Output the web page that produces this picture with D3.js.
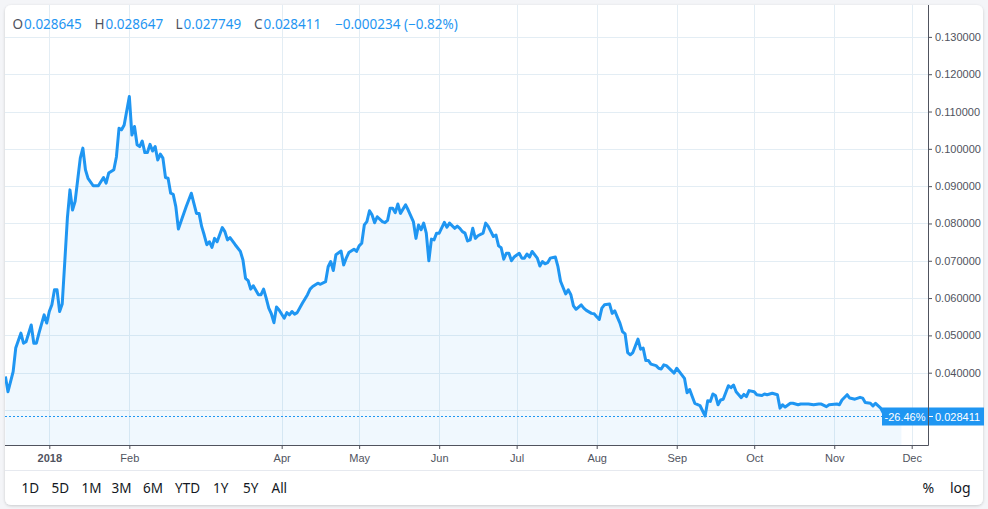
<!DOCTYPE html>
<html>
<head>
<meta charset="utf-8">
<script src="https://cdn.jsdelivr.net/npm/d3@7"></script>
<style>
html, body { margin: 0; padding: 0; background: #f4f5f8; }
svg { display: block; }
</style>
</head>
<body>
<svg width="988" height="509"></svg>
<script>
var width = 988;
var height = 509;
var plot = {left: 5, top: 5, right: 928, bottom: 445};

// daily closes
var dates = [
  "2017-12-15","2017-12-16","2017-12-18","2017-12-19","2017-12-21","2017-12-22","2017-12-23","2017-12-25",
  "2017-12-26","2017-12-27","2017-12-28","2017-12-30","2017-12-31",
  "2018-01-01","2018-01-02","2018-01-03","2018-01-04","2018-01-05","2018-01-06","2018-01-07","2018-01-08",
  "2018-01-09","2018-01-10","2018-01-11","2018-01-12","2018-01-13","2018-01-14","2018-01-15","2018-01-16",
  "2018-01-18","2018-01-20","2018-01-22","2018-01-23","2018-01-24","2018-01-26","2018-01-27","2018-01-28",
  "2018-01-29","2018-01-30",
  "2018-02-01","2018-02-02","2018-02-03","2018-02-04","2018-02-05","2018-02-06","2018-02-07","2018-02-08",
  "2018-02-09","2018-02-10","2018-02-11","2018-02-12","2018-02-13","2018-02-14","2018-02-15","2018-02-16",
  "2018-02-17","2018-02-18","2018-02-19","2018-02-20","2018-02-21","2018-02-23","2018-02-25","2018-02-26",
  "2018-02-27","2018-02-28",
  "2018-03-01","2018-03-02","2018-03-03","2018-03-04","2018-03-05","2018-03-06","2018-03-07","2018-03-09",
  "2018-03-10","2018-03-11","2018-03-12","2018-03-14","2018-03-16","2018-03-17","2018-03-18","2018-03-19",
  "2018-03-20","2018-03-21","2018-03-23","2018-03-24","2018-03-25","2018-03-26","2018-03-27","2018-03-28",
  "2018-03-29","2018-03-30","2018-03-31",
  "2018-04-02","2018-04-03","2018-04-04","2018-04-05","2018-04-06","2018-04-07","2018-04-09","2018-04-11",
  "2018-04-12","2018-04-13","2018-04-15","2018-04-16","2018-04-18","2018-04-19","2018-04-20","2018-04-21",
  "2018-04-22","2018-04-24","2018-04-25","2018-04-26","2018-04-27","2018-04-29","2018-04-30",
  "2018-05-01","2018-05-02","2018-05-03","2018-05-04","2018-05-05","2018-05-06","2018-05-07","2018-05-08",
  "2018-05-10","2018-05-11","2018-05-12","2018-05-13","2018-05-14","2018-05-15","2018-05-16","2018-05-17",
  "2018-05-19","2018-05-20","2018-05-22","2018-05-23","2018-05-24","2018-05-25","2018-05-26","2018-05-27",
  "2018-05-28","2018-05-29","2018-05-30","2018-05-31",
  "2018-06-01","2018-06-03","2018-06-04","2018-06-05","2018-06-07","2018-06-08","2018-06-09","2018-06-10",
  "2018-06-11","2018-06-12","2018-06-13","2018-06-14","2018-06-15","2018-06-16","2018-06-18","2018-06-19",
  "2018-06-20","2018-06-22","2018-06-23","2018-06-24","2018-06-25","2018-06-26","2018-06-27","2018-06-28",
  "2018-06-29","2018-06-30",
  "2018-07-02","2018-07-03","2018-07-04","2018-07-05","2018-07-06","2018-07-07","2018-07-09","2018-07-10",
  "2018-07-11","2018-07-12","2018-07-13","2018-07-14","2018-07-16","2018-07-17","2018-07-18","2018-07-20",
  "2018-07-21","2018-07-22","2018-07-23","2018-07-24","2018-07-26","2018-07-27","2018-07-28","2018-07-30",
  "2018-07-31",
  "2018-08-01","2018-08-02","2018-08-03","2018-08-04","2018-08-06","2018-08-07","2018-08-08","2018-08-09",
  "2018-08-10","2018-08-11","2018-08-12","2018-08-13","2018-08-14","2018-08-15","2018-08-17","2018-08-18",
  "2018-08-19","2018-08-20","2018-08-21","2018-08-22","2018-08-24","2018-08-25","2018-08-26","2018-08-27",
  "2018-08-28","2018-08-31",
  "2018-09-01","2018-09-02","2018-09-04","2018-09-05","2018-09-06","2018-09-07","2018-09-08","2018-09-10",
  "2018-09-12","2018-09-13","2018-09-14","2018-09-15","2018-09-16","2018-09-17","2018-09-18","2018-09-19",
  "2018-09-21","2018-09-22","2018-09-23","2018-09-24","2018-09-26","2018-09-27","2018-09-28","2018-09-29",
  "2018-10-01","2018-10-02","2018-10-04","2018-10-05","2018-10-06","2018-10-08","2018-10-10","2018-10-11",
  "2018-10-12","2018-10-13","2018-10-15","2018-10-16","2018-10-18","2018-10-19","2018-10-22","2018-10-24",
  "2018-10-26","2018-10-27","2018-10-29","2018-10-30",
  "2018-11-02","2018-11-03","2018-11-04","2018-11-06","2018-11-07","2018-11-09","2018-11-11","2018-11-12",
  "2018-11-13","2018-11-15","2018-11-16","2018-11-17","2018-11-19","2018-11-20","2018-11-26","2018-11-27"
];

var closes = [
  0.0390,0.0349,0.0403,0.0466,0.0506,0.0479,0.0483,0.0528,
  0.0479,0.0479,0.0506,0.0555,0.0533,
  0.0564,0.0582,0.0622,0.0622,0.0564,0.0584,0.0698,0.0814,
  0.0890,0.0836,0.0859,0.0917,0.0975,0.1002,0.0944,0.0921,
  0.0901,0.0901,0.0923,0.0908,0.0935,0.0944,0.0979,0.1055,
  0.1051,0.1064,
  0.1140,0.1037,0.1060,0.1011,0.1006,0.1021,0.0990,0.0990,
  0.1012,0.0994,0.1006,0.0970,0.0986,0.0975,0.0923,0.0921,
  0.0881,0.0878,0.0845,0.0785,0.0805,0.0845,0.0881,0.0854,
  0.0827,0.0827,
  0.0792,0.0769,0.0743,0.0751,0.0736,0.0760,0.0751,0.0789,
  0.0778,0.0756,0.0762,0.0743,0.0725,0.0702,0.0653,0.0647,
  0.0624,0.0633,0.0609,0.0609,0.0624,0.0600,0.0573,0.0558,
  0.0534,0.0576,0.0568,
  0.0546,0.0561,0.0555,0.0564,0.0557,0.0561,0.0586,0.0609,
  0.0624,0.0631,0.0640,0.0637,0.0644,0.0684,0.0698,0.0674,
  0.0716,0.0726,0.0689,0.0707,0.0722,0.0731,0.0725,
  0.0740,0.0747,0.0796,0.0805,0.0834,0.0823,0.0802,0.0818,
  0.0805,0.0802,0.0808,0.0841,0.0841,0.0829,0.0852,0.0827,
  0.0850,0.0836,0.0805,0.0760,0.0796,0.0783,0.0801,0.0774,
  0.0700,0.0758,0.0756,0.0774,
  0.0774,0.0803,0.0790,0.0801,0.0787,0.0793,0.0787,0.0778,
  0.0774,0.0753,0.0756,0.0787,0.0760,0.0767,0.0774,0.0801,
  0.0792,0.0765,0.0769,0.0740,0.0735,0.0704,0.0720,0.0720,
  0.0700,0.0710,
  0.0720,0.0707,0.0707,0.0718,0.0710,0.0725,0.0707,0.0686,
  0.0698,0.0692,0.0695,0.0707,0.0710,0.0684,0.0645,0.0611,
  0.0622,0.0609,0.0579,0.0570,0.0582,0.0573,0.0567,0.0559,
  0.0558,
  0.0550,0.0543,0.0573,0.0582,0.0584,0.0559,0.0566,0.0549,
  0.0533,0.0510,0.0504,0.0454,0.0448,0.0454,0.0490,0.0463,
  0.0466,0.0433,0.0433,0.0423,0.0419,0.0412,0.0410,0.0421,
  0.0419,0.0399,
  0.0412,0.0403,0.0385,0.0346,0.0355,0.0336,0.0318,0.0312,
  0.0284,0.0325,0.0323,0.0343,0.0339,0.0314,0.0327,0.0329,
  0.0365,0.0360,0.0367,0.0349,0.0333,0.0342,0.0336,0.0352,
  0.0349,0.0341,0.0339,0.0343,0.0341,0.0345,0.0341,0.0305,
  0.0314,0.0308,0.0318,0.0318,0.0314,0.0316,0.0316,0.0314,
  0.0316,0.0316,0.0309,0.0314,
  0.0316,0.0314,0.0327,0.0341,0.0332,0.0329,0.0334,0.0332,
  0.0320,0.0318,0.0311,0.0318,0.0305,0.0292,0.0286,0.028411
];

var gridTicks = [0.03, 0.04, 0.05, 0.06, 0.07, 0.08, 0.09, 0.10, 0.11, 0.12, 0.13];
// 0.03 label sits under the last-price label, so it gets no text
var yTicks = [0.04, 0.05, 0.06, 0.07, 0.08, 0.09, 0.10, 0.11, 0.12, 0.13];
var xTickDates = ["2018-01-01","2018-02-01","2018-04-01","2018-05-01","2018-06-01","2018-07-01",
                  "2018-08-01","2018-09-01","2018-10-01","2018-11-01","2018-12-01"];
var xTickLabels = ["2018","Feb","Apr","May","Jun","Jul","Aug","Sep","Oct","Nov","Dec"];

var legendKeys = ["O", "H", "L", "C"];
var legendValues = ["0.028645", "0.028647", "0.027749", "0.028411"];
var legendChange = "\u22120.000234 (\u22120.82%)";
var lastClose = 0.028411;
var lastChangePct = "-26.46%";

var rangeButtons = ["1D","5D","1M","3M","6M","YTD","1Y","5Y","All"];
var rightButtons = ["%","log"];

var blue = "#1f96f2";
var axisColor = "#50535e";
var gridColor = "#e3edf4";

var parse = d3.timeParse("%Y-%m-%d");
var series = dates.map(function (d, i) { return {date: parse(d), value: closes[i]}; });

var x = d3.scaleTime()
  .domain([parse("2018-01-01"), parse("2018-12-01")])
  .range([49.3, 911.7]);
var y = d3.scaleLinear()
  .domain([0.04, 0.13])
  .range([372.7, 36.9]);

var svg = d3.select("svg");

// card
var defs = svg.append("defs");
var shadow = defs.append("filter").attr("id", "shadow")
  .attr("x", "-5%").attr("y", "-5%").attr("width", "110%").attr("height", "110%");
shadow.append("feDropShadow").attr("dx", 0).attr("dy", 1).attr("stdDeviation", 1.5)
  .attr("flood-color", "#000").attr("flood-opacity", 0.18);
defs.append("clipPath").attr("id", "plotclip").append("rect")
  .attr("x", plot.left).attr("y", plot.top)
  .attr("width", plot.right - plot.left).attr("height", plot.bottom - plot.top);

svg.append("rect")
  .attr("x", 5).attr("y", 5).attr("width", 978).attr("height", 500)
  .attr("rx", 6).attr("fill", "#fff").attr("filter", "url(#shadow)");

var plotG = svg.append("g").attr("clip-path", "url(#plotclip)");

// grid
plotG.selectAll(".hgrid").data(gridTicks).enter().append("line")
  .attr("x1", plot.left).attr("x2", plot.right)
  .attr("y1", function (d) { return Math.round(y(d)) + 0.5; })
  .attr("y2", function (d) { return Math.round(y(d)) + 0.5; })
  .attr("stroke", gridColor);

plotG.selectAll(".vgrid").data(xTickDates).enter().append("line")
  .attr("y1", plot.top).attr("y2", plot.bottom)
  .attr("x1", function (d) { return Math.round(x(parse(d))) + 0.5; })
  .attr("x2", function (d) { return Math.round(x(parse(d))) + 0.5; })
  .attr("stroke", gridColor);

// area + line
var area = d3.area()
  .x(function (d) { return x(d.date); })
  .y0(plot.bottom)
  .y1(function (d) { return y(d.value); });
var line = d3.line()
  .x(function (d) { return x(d.date); })
  .y(function (d) { return y(d.value); });

plotG.append("path").datum(series)
  .attr("d", area)
  .attr("fill", "rgba(33,150,243,0.065)");

plotG.append("path").datum(series)
  .attr("d", line)
  .attr("fill", "none")
  .attr("stroke", blue)
  .attr("stroke-width", 3)
  .attr("stroke-linejoin", "round");

// last price dotted line
var yLast = Math.round(y(lastClose)) + 0.5;
plotG.append("line")
  .attr("x1", plot.left).attr("x2", plot.right)
  .attr("y1", yLast).attr("y2", yLast)
  .attr("stroke", blue).attr("stroke-width", 1)
  .attr("stroke-dasharray", "2,2");

// axes
var axisRight = d3.axisRight(y)
  .tickValues(yTicks)
  .tickSize(4)
  .tickPadding(3)
  .tickFormat(d3.format(".6f"));
var yAxisG = svg.append("g")
  .attr("transform", "translate(" + plot.right + ",0)")
  .call(axisRight);
yAxisG.select(".domain").remove();

var axisBottom = d3.axisBottom(x)
  .tickValues(xTickDates.map(parse))
  .tickSize(4)
  .tickPadding(5)
  .tickFormat(function (d, i) { return xTickLabels[i]; });
var xAxisG = svg.append("g")
  .attr("transform", "translate(0," + plot.bottom + ")")
  .call(axisBottom);
xAxisG.select(".domain").remove();

svg.selectAll(".tick line").attr("stroke", axisColor);
svg.selectAll(".tick text")
  .attr("fill", axisColor)
  .style("font-family", "'Liberation Sans', Arial, sans-serif")
  .style("font-size", "11px");
xAxisG.selectAll(".tick text").filter(function (d, i) { return i === 0; })
  .style("font-weight", "bold");

svg.append("line")
  .attr("x1", plot.left).attr("x2", plot.right + 0.5)
  .attr("y1", plot.bottom + 0.5).attr("y2", plot.bottom + 0.5)
  .attr("stroke", axisColor);
svg.append("line")
  .attr("x1", plot.right + 0.5).attr("x2", plot.right + 0.5)
  .attr("y1", plot.top).attr("y2", plot.bottom + 0.5)
  .attr("stroke", axisColor);

// last value labels
svg.append("rect")
  .attr("x", 882).attr("y", yLast - 9).attr("width", plot.right - 882).attr("height", 18)
  .attr("fill", blue);
svg.append("text")
  .attr("x", 905).attr("y", yLast + 4)
  .attr("text-anchor", "middle")
  .attr("fill", "#fff")
  .style("font-family", "'Liberation Sans', Arial, sans-serif")
  .style("font-size", "11px")
  .text(lastChangePct);
svg.append("rect")
  .attr("x", plot.right + 1).attr("y", yLast - 9).attr("width", 55).attr("height", 18)
  .attr("fill", blue);
svg.append("line")
  .attr("x1", plot.right + 1).attr("x2", plot.right + 5)
  .attr("y1", yLast).attr("y2", yLast)
  .attr("stroke", "#fff");
svg.append("text")
  .attr("x", plot.right + 7).attr("y", yLast + 4)
  .attr("fill", "#fff")
  .style("font-family", "'Liberation Sans', Arial, sans-serif")
  .style("font-size", "11px")
  .text(d3.format(".6f")(lastClose));

// legend
var legendX = [12.5, 94.5, 175.5, 254];
var legend = svg.append("g")
  .style("font-family", "'Noto Sans', 'Open Sans', sans-serif")
  .style("font-size", "13.5px");
legendKeys.forEach(function (k, i) {
  var t = legend.append("text").attr("x", legendX[i]).attr("y", 29);
  t.append("tspan").attr("fill", axisColor).text(k);
  t.append("tspan").attr("fill", blue).attr("dx", 1).text(legendValues[i]);
});
legend.append("text").attr("x", 335).attr("y", 29)
  .attr("fill", blue).text(legendChange);

// footer
svg.append("line")
  .attr("x1", 5).attr("x2", 983)
  .attr("y1", 470.5).attr("y2", 470.5)
  .attr("stroke", "#e6e9ef");

var buttonX = [21.5, 51.5, 81.5, 111.5, 143, 175, 213, 243, 271.5];
svg.append("g")
  .style("font-family", "'Noto Sans', 'Open Sans', sans-serif")
  .style("font-size", "13.5px")
  .attr("fill", "#131722")
  .selectAll("text").data(rangeButtons).enter().append("text")
  .attr("x", function (d, i) { return buttonX[i]; })
  .attr("y", 493)
  .text(function (d) { return d; });

var rightX = [922.5, 950];
svg.append("g")
  .style("font-family", "'Noto Sans', 'Open Sans', sans-serif")
  .style("font-size", "14px")
  .attr("fill", "#131722")
  .selectAll("text").data(rightButtons).enter().append("text")
  .attr("x", function (d, i) { return rightX[i]; })
  .attr("y", 493)
  .text(function (d) { return d; });
</script>
</body>
</html>
